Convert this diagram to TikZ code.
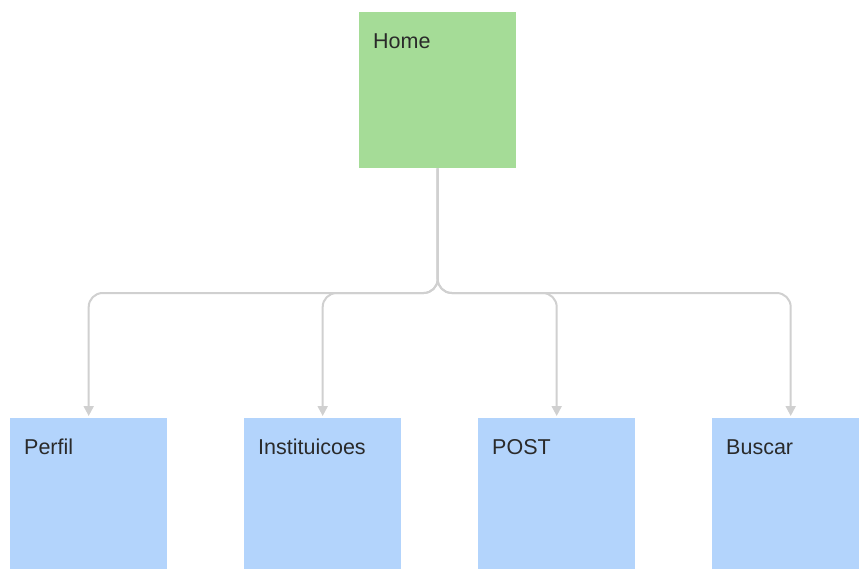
\documentclass[tikz,border=0pt]{standalone}
\usepackage{fontspec}
\setmainfont{Liberation Sans}
\usetikzlibrary{positioning}
\usetikzlibrary{arrows.meta}
\definecolor{homegreen}{HTML}{A5DC97}
\definecolor{pageblue}{HTML}{B3D4FC}
\definecolor{linkgray}{HTML}{D0D0D0}
\definecolor{labelgray}{HTML}{2A2A2A}

\begin{document}
\begin{tikzpicture}[x=1pt,y=-1pt]
            \tikzset{card/.style={rectangle, minimum width=157pt, minimum height=156pt, inner sep=0pt, anchor=north west}}
            \tikzset{cardtext/.style={anchor=base west, inner sep=0pt, text=labelgray, font=\fontsize{21.5}{24}\selectfont}}
            \tikzset{link/.style={draw=linkgray, line width=2pt, rounded corners=14pt, shorten >=2pt, -{Triangle[length=10pt,width=10pt]}}}
            \useasboundingbox (0,0) rectangle (859,569);
            \clip (0,0) rectangle (859,569);
            \node[card, fill=homegreen] (home) at (359,12) {};
            \node[cardtext] (homelabel) at ([shift={(14,37)}]home.north west) {Home};
            \coordinate (bus) at (home.south |- 0,293);
            \foreach \name/\txt/\x in {perfil/Perfil/10, inst/Instituicoes/244, post/POST/478, buscar/Buscar/712} {
                \node[card, fill=pageblue] (\name) at (\x,418) {};
                \node[cardtext] (\name label) at ([shift={(14,36)}]\name.north west) {\txt};
                \draw[link] (home.south) -- (bus) -| (\name.north);
            }
        \end{tikzpicture}
\end{document}
